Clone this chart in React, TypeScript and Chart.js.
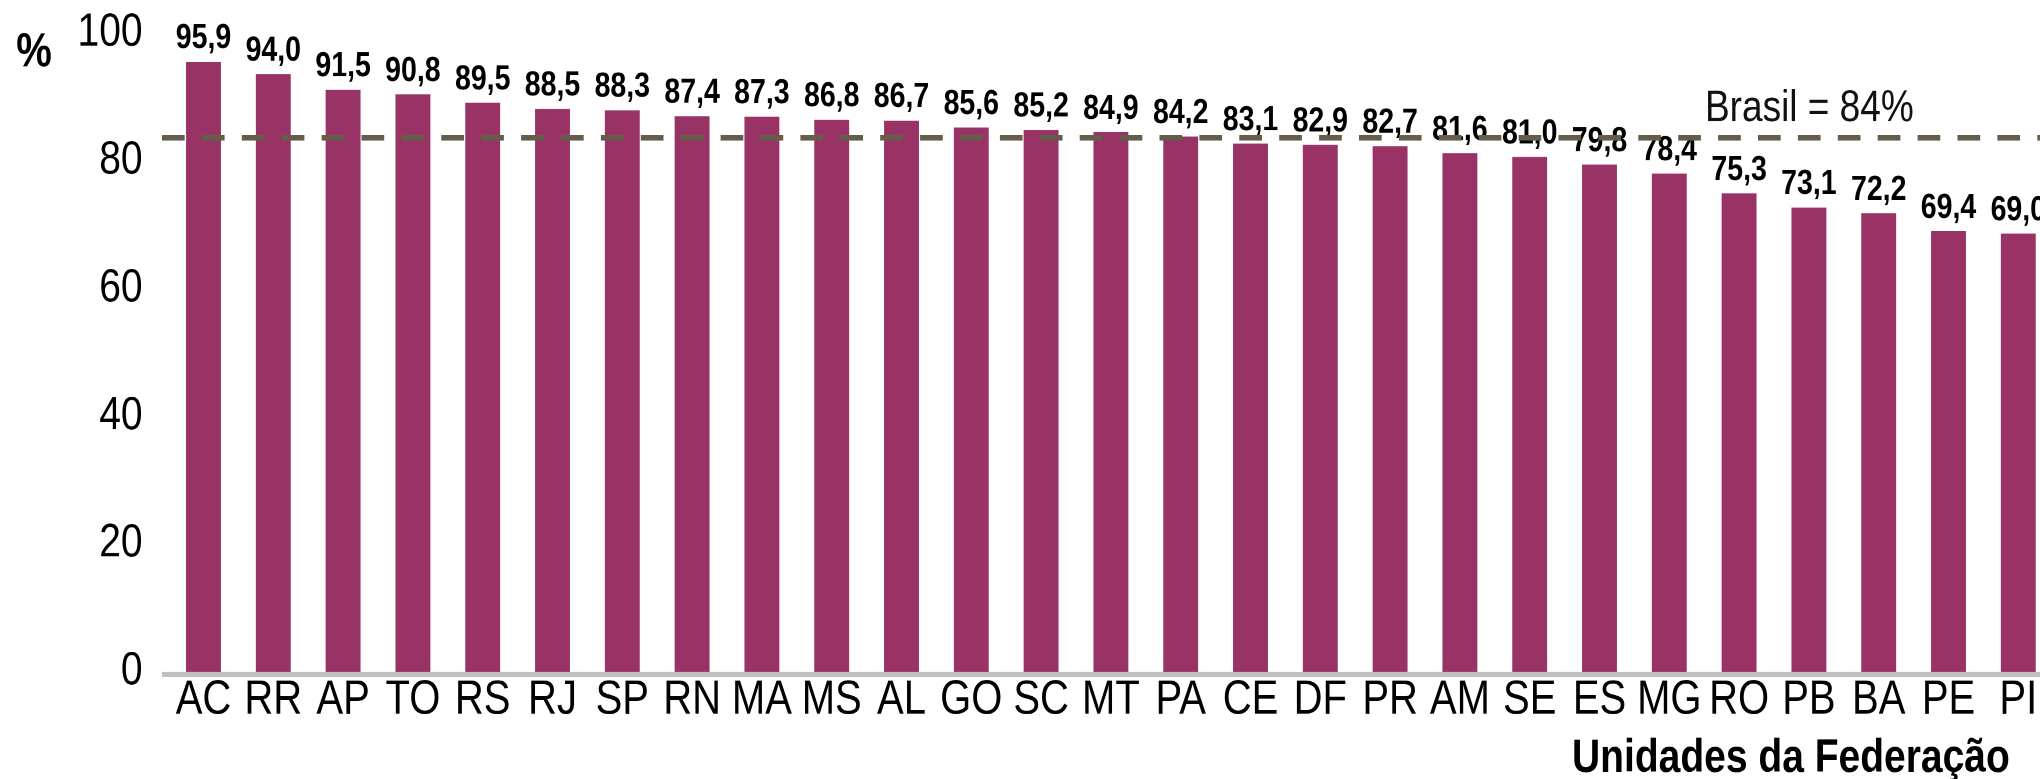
import React, { useEffect, useRef } from "react";
import { Chart, registerables } from "chart.js";

Chart.register(...registerables);

const categories = ["AC","RR","AP","TO","RS","RJ","SP","RN","MA","MS","AL","GO","SC","MT","PA","CE","DF","PR","AM","SE","ES","MG","RO","PB","BA","PE","PI"];
const values = [95.9,94.0,91.5,90.8,89.5,88.5,88.3,87.4,87.3,86.8,86.7,85.6,85.2,84.9,84.2,83.1,82.9,82.7,81.6,81.0,79.8,78.4,75.3,73.1,72.2,69.4,69.0];
const brasilValue = 84;
const brasilLabel = "Brasil = 84%";
const yUnitLabel = "%";
const xTitle = "Unidades da Federação";
const yTicks = [0, 20, 40, 60, 80, 100];

const FONT = "'Liberation Sans', Arial, sans-serif";
const BAR_COLOR = "#993366";
const LINE_COLOR = "#665c4b";
const AXIS_COLOR = "#bfbfbf";

// The reference text is horizontally condensed: the chart is laid out in a
// vertically squeezed logical space and stretched back with a CSS scaleY.
const OUT_W = 2060;
const OUT_H = 779;
const LOG_H = 649;
const K = OUT_H / LOG_H;

const overlayPlugin = {
  id: "overlay",
  afterDatasetsDraw(chart: any) {
    const ctx = chart.ctx;
    const y = chart.scales.y;
    const meta = chart.getDatasetMeta(0);
    ctx.save();
    // data labels
    ctx.fillStyle = "#000";
    ctx.font = `bold 28.5px ${FONT}`;
    ctx.textAlign = "center";
    ctx.textBaseline = "alphabetic";
    meta.data.forEach((bar: any, i: number) => {
      const txt = values[i].toFixed(1).replace(".", ",");
      ctx.fillText(txt, bar.x, bar.y - 13.5 / K);
    });
    // Brasil dashed line
    const yb = y.getPixelForValue(brasilValue);
    ctx.strokeStyle = LINE_COLOR;
    ctx.lineWidth = 5.5 / K;
    ctx.lineCap = "butt";
    ctx.setLineDash([22.7, 17.2]);
    ctx.beginPath();
    ctx.moveTo(162, yb);
    ctx.lineTo(chart.width, yb);
    ctx.stroke();
    ctx.setLineDash([]);
    // x axis line
    const y0 = y.getPixelForValue(0);
    ctx.strokeStyle = AXIS_COLOR;
    ctx.lineWidth = 5 / K;
    ctx.beginPath();
    ctx.moveTo(162, y0);
    ctx.lineTo(chart.width, y0);
    ctx.stroke();
    // texts
    ctx.fillStyle = "#111";
    ctx.textAlign = "left";
    ctx.font = `37px ${FONT}`;
    ctx.fillText(brasilLabel, 1705, 121.5 / K);
    ctx.fillStyle = "#000";
    ctx.font = `bold 40px ${FONT}`;
    ctx.textAlign = "center";
    ctx.fillText(yUnitLabel, 34, 66 / K);
    ctx.font = `bold 39px ${FONT}`;
    ctx.textAlign = "left";
    ctx.fillText(xTitle, 1572, 771.5 / K);
    ctx.restore();
  },
};

export default function App() {
  const ref = useRef<HTMLCanvasElement>(null);
  useEffect(() => {
    const canvas = ref.current!;
    const chart = new Chart(canvas, {
      type: "bar",
      data: {
        labels: categories,
        datasets: [
          {
            data: values,
            backgroundColor: BAR_COLOR,
            categoryPercentage: 1,
            barPercentage: 0.5,
          },
        ],
      },
      options: {
        responsive: false,
        animation: false,
        devicePixelRatio: 2,
        layout: { padding: { top: 35.6 / K, right: 6.8, left: 0, bottom: 0 } },
        plugins: { legend: { display: false }, tooltip: { enabled: false } },
        scales: {
          x: {
            grid: { display: false, drawTicks: false },
            border: { display: false },
            ticks: {
              color: "#000",
              font: { family: FONT, size: 40, lineHeight: 1.2 },
              padding: -2.3,
              maxRotation: 0,
              autoSkip: false,
            },
            afterFit: (s: any) => {
              s.height = LOG_H - 674.5 / K;
            },
          },
          y: {
            min: 0,
            max: 100,
            grid: { display: false, drawTicks: false },
            border: { display: false },
            afterBuildTicks: (s: any) => {
              s.ticks = yTicks.map((v) => ({ value: v }));
            },
            ticks: {
              color: "#000",
              font: { family: FONT, size: 39 },
              padding: 26,
              labelOffset: -3 / K,
            },
            afterFit: (s: any) => {
              s.width = 168.6;
              s.paddingTop = 0;
              s.paddingBottom = 0;
            },
          },
        },
      },
      plugins: [overlayPlugin],
    });
    return () => chart.destroy();
  }, []);
  return (
    <div
      style={{
        position: "fixed",
        left: 0,
        top: 0,
        width: 2040,
        height: 779,
        overflow: "hidden",
        background: "#fff",
      }}
    >
      <canvas
        ref={ref}
        width={OUT_W}
        height={LOG_H}
        style={{
          display: "block",
          width: OUT_W,
          height: LOG_H,
          transform: `scaleY(${K})`,
          transformOrigin: "0 0",
        }}
      />
    </div>
  );
}
